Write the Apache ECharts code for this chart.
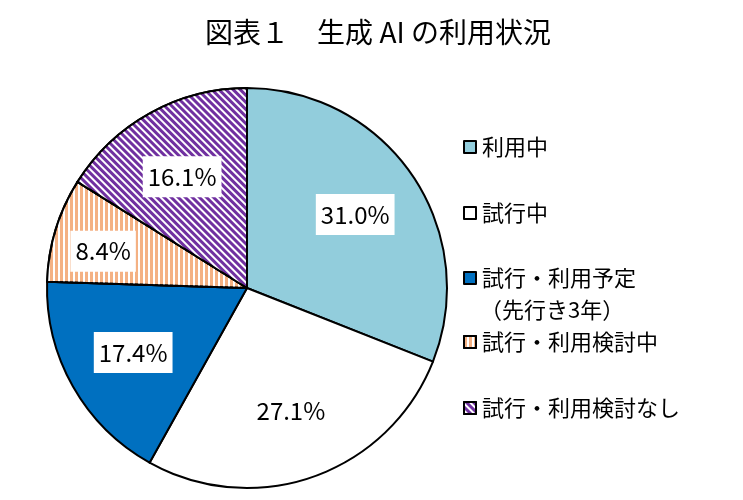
<!DOCTYPE html>
<html>
<head>
<meta charset="utf-8">
<script src="https://cdn.jsdelivr.net/npm/echarts@6/dist/echarts.min.js"></script>
<style>
html,body{margin:0;padding:0;background:#fff;}
#chart{width:743px;height:500px;}
</style>
</head>
<body>
<div id="chart"></div>
<script>
const titleText = '図表１　生成 AI の利用状況';
const categories = ['利用中', '試行中', '試行・利用予定', '試行・利用検討中', '試行・利用検討なし'];
const values = [31.0, 27.1, 17.4, 8.4, 16.1];
const legendNote = '（先行き3年）';

const CX = 247, CY = 288, R = 200;
const colors = ['#92CDDC', '#FFFFFF', '#0070C0', '#F4B183', '#7030A0'];
const decals = [
  null,
  null,
  null,
  { symbol: 'rect', symbolSize: 1, color: '#FFFFFF', dashArrayX: [1, 0], dashArrayY: [1.3, 2.7], rotation: Math.PI / 2 },
  { symbol: 'rect', symbolSize: 1, color: '#FFFFFF', dashArrayX: [1, 0], dashArrayY: [2, 3], rotation: Math.PI / 4 }
];
const labelScale = [1.27, 1.27, 1.27, 1.46, 1.30];
const labelShiftY = [0, 0, 0, 7, 6];
const legendCenters = [147, 213, 278, 342, 408];

const chart = echarts.init(document.getElementById('chart'), null, { renderer: 'canvas' });

const data = categories.map((name, i) => {
  const style = { color: colors[i], borderColor: '#000', borderWidth: 2 };
  if (decals[i]) style.decal = decals[i];
  return { name: name, value: values[i], itemStyle: style };
});

const legends = categories.map((name, i) => ({
  data: [name],
  orient: 'vertical',
  left: 463,
  top: legendCenters[i] - 11,
  icon: 'rect',
  itemWidth: 12,
  itemHeight: 12,
  itemGap: 0,
  padding: 0,
  selectedMode: false,
  itemStyle: { borderColor: '#000', borderWidth: 2 },
  textStyle: { fontSize: 22, color: '#000', fontFamily: "'Noto Sans CJK JP', sans-serif", padding: [0, 0, 0, 1] }
}));

chart.setOption({
  backgroundColor: '#fff',
  animation: false,
  title: {
    text: titleText,
    left: 378,
    textAlign: 'center',
    top: 18,
    padding: 0,
    textStyle: { fontSize: 28, fontWeight: 'normal', color: '#000', fontFamily: "'Noto Sans CJK JP', sans-serif" }
  },
  legend: legends,
  graphic: [{
    type: 'text',
    left: 480,
    top: 299,
    style: { text: legendNote, fontSize: 22, fill: '#000', fontFamily: "'Noto Sans CJK JP', sans-serif" }
  }],
  series: [{
    type: 'pie',
    center: [CX, CY],
    radius: R,
    startAngle: 90,
    clockwise: true,
    data: data,
    emphasis: { disabled: true },
    label: {
      show: true,
      position: 'inside',
      formatter: p => p.value.toFixed(1) + '%',
      color: '#000',
      fontSize: 24,
      fontFamily: "'Noto Sans CJK JP', sans-serif",
      backgroundColor: '#fff',
      padding: [9, 5, 8, 5]
    },
    labelLine: { show: false }
  }]
});

chart.setOption({
  series: [{
    labelLayout: function (params) {
      const r = params.labelRect;
      const cx = r.x + r.width / 2;
      const cy = r.y + r.height / 2;
      const k = labelScale[params.dataIndex] - 1;
      return { dx: (cx - CX) * k, dy: (cy - CY) * k + labelShiftY[params.dataIndex] };
    }
  }]
});
</script>
</body>
</html>
